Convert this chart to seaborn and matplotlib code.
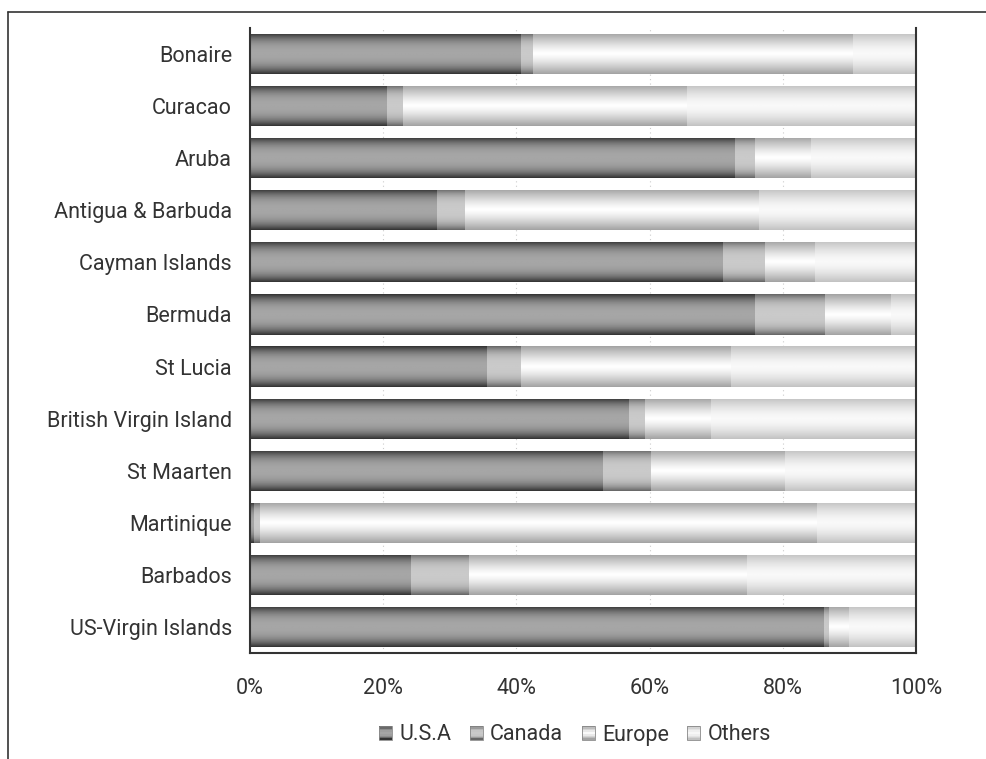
import numpy as np
import pandas as pd
import matplotlib
matplotlib.use("Agg")
import matplotlib.pyplot as plt
import seaborn as sns
from matplotlib.patches import Patch, Rectangle
from matplotlib.lines import Line2D
from matplotlib.legend_handler import HandlerBase

countries = ["Bonaire", "Curacao", "Aruba", "Antigua & Barbuda", "Cayman Islands",
             "Bermuda", "St Lucia", "British Virgin Island", "St Maarten",
             "Martinique", "Barbados", "US-Virgin Islands"]
usa = [40.6, 20.5, 72.8, 28.0, 71.0, 75.8, 35.5, 56.8, 53.0, 0.6, 24.1, 86.1]
canada = [1.8, 2.4, 2.9, 4.2, 6.2, 10.5, 5.1, 2.5, 7.1, 0.9, 8.7, 0.8]
europe = [48.1, 42.6, 8.5, 44.2, 7.6, 9.9, 31.6, 9.9, 20.2, 83.6, 41.8, 3.0]
others = [9.5, 34.5, 15.8, 23.6, 15.2, 3.8, 27.8, 30.8, 19.7, 14.9, 25.4, 10.1]
series = ["U.S.A", "Canada", "Europe", "Others"]
xticks = [0, 20, 40, 60, 80, 100]

sns.set_theme(style="white")
plt.rcParams['font.family'] = ['Roboto', 'DejaVu Sans']

df = pd.DataFrame({"country": countries, "U.S.A": usa, "Canada": canada,
                   "Europe": europe, "Others": others})
df["c_usa"] = df["U.S.A"]
df["c_can"] = df["c_usa"] + df["Canada"]
df["c_eur"] = df["c_can"] + df["Europe"]
df["c_oth"] = df["c_eur"] + df["Others"]

# gradient specs: (edge gray, center gray, power)
grad = {"U.S.A": (0.20, 0.65, 2.6), "Canada": (0.40, 0.79, 3.0),
        "Europe": (0.64, 1.0, 1.3), "Others": (0.76, 0.975, 1.6)}
mid = {"U.S.A": "#8c8c8c", "Canada": "#bdbdbd", "Europe": "#dcdcdc", "Others": "#ececec"}


def profile(name, n=64):
    e, c, p = grad[name]
    t = np.linspace(0, 1, n)
    d = np.abs(t - 0.5) * 2
    return c + (e - c) * d ** p


fig = plt.figure(figsize=(9.86, 7.59), dpi=100)
ax = fig.add_axes([250/986, 1-653/759, (916-250)/986, (653-28)/759])

order = [("c_oth", "Others"), ("c_eur", "Europe"), ("c_can", "Canada"), ("c_usa", "U.S.A")]
for col, name in order:
    n0 = len(ax.patches)
    sns.barplot(data=df, x=col, y="country", orient="h", color=mid[name],
                width=0.77, saturation=1, linewidth=0, ax=ax)
    img = np.repeat(profile(name)[:, None], 2, axis=1)
    for patch in ax.patches[n0:]:
        x0, y0 = patch.get_x(), patch.get_y()
        w, h = patch.get_width(), patch.get_height()
        if w <= 0:
            continue
        im = ax.imshow(img, extent=[x0, x0 + w, y0 + h, y0], aspect="auto",
                       cmap="gray", vmin=0, vmax=1, interpolation="bilinear",
                       zorder=patch.get_zorder() + 0.01 * len(ax.images))
        im.set_clip_path(patch)

ax.set_xlim(0, 100)
ax.set_ylim(len(countries) - 0.5, -0.5)
ax.set_xticks(xticks)
ax.set_xticklabels([f"{v}%" for v in xticks], fontsize=15.5, color="#333333")
ax.set_yticks(range(len(countries)))
ax.set_yticklabels(countries, fontsize=15.5, color="#333333")
ax.set_yticks(np.arange(-0.5, len(countries), 1), minor=True)
ax.tick_params(axis="y", which="major", length=0, pad=13)
ax.tick_params(axis="y", which="minor", length=6, width=1.5, color="#333333", direction="out")
ax.tick_params(axis="x", which="major", length=7, width=1.5, color="#333333", direction="out", pad=11)
ax.set_xlabel("")
ax.set_ylabel("")
for v in xticks[1:-1]:
    ax.axvline(v, color="#cccccc", lw=0.8, ls=(0, (1, 3)), zorder=0)
for s in ["left", "bottom", "right"]:
    ax.spines[s].set_visible(True)
    ax.spines[s].set_color("#333333")
    ax.spines[s].set_linewidth(1.5)
ax.spines["top"].set_visible(False)


class GradHandler(HandlerBase):
    def create_artists(self, legend, orig_handle, xdescent, ydescent, width, height, fontsize, trans):
        name = orig_handle.get_label()
        vals = profile(name, 10)
        arts = []
        n = len(vals)
        for i, v in enumerate(vals):
            r = Rectangle((-xdescent, -ydescent + height * (n - 1 - i) / n), width, height / n,
                          facecolor=(v, v, v), edgecolor="none", transform=trans)
            arts.append(r)
        arts.append(Rectangle((-xdescent, -ydescent), width, height, facecolor="none",
                              edgecolor="#888888", lw=0.6, transform=trans))
        return arts


handles = [Patch(facecolor=mid[s], label=s) for s in series]
fig.legend(handles, series, loc="center", bbox_to_anchor=(575/986, 1-735/759), ncol=4,
           frameon=False, fontsize=15.5, handlelength=0.6, handleheight=0.6,
           handletextpad=0.35, columnspacing=0.85, labelcolor="#333333",
           handler_map={Patch: GradHandler()})

# outer frame fragment
fig.add_artist(Line2D([8/986, 8/986], [0, 1-12/759], color="#333333", lw=1.2))
fig.add_artist(Line2D([8/986, 1], [1-12/759, 1-12/759], color="#333333", lw=1.2))

fig.savefig("out.png", dpi=100)
